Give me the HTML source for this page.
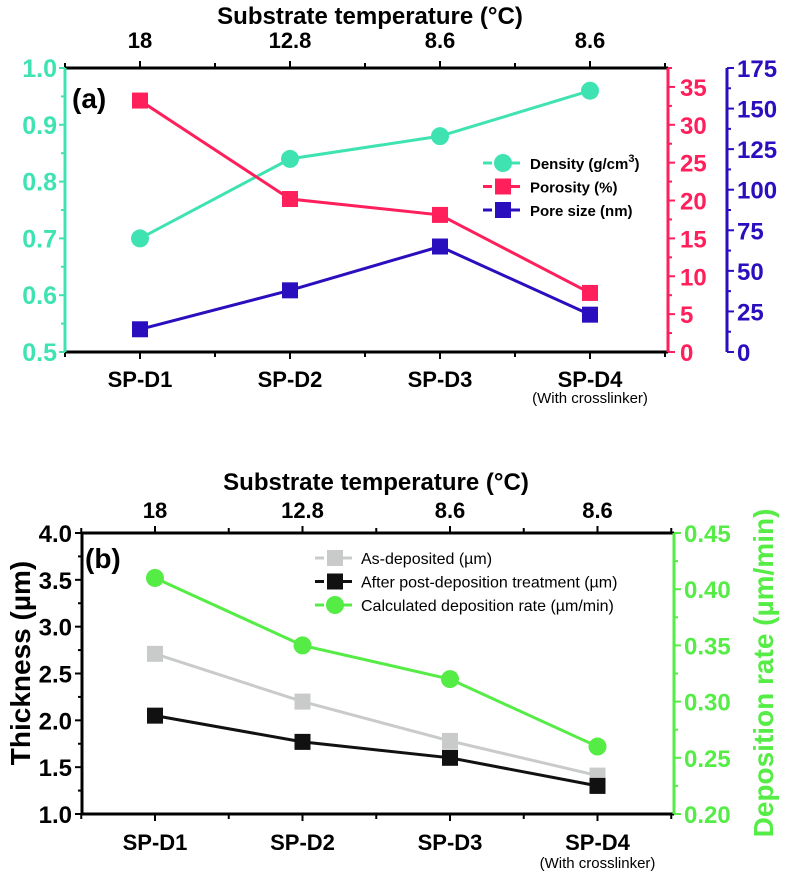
<!DOCTYPE html>
<html><head><meta charset="utf-8"><style>
html,body{margin:0;padding:0;background:#fff;}
svg{display:block;font-family:"Liberation Sans",Arial,sans-serif;}
</style></head><body>
<svg id="fig" width="787" height="872" viewBox="0 0 787 872"></svg>
<script>
const categories=["SP-D1","SP-D2","SP-D3","SP-D4"];
const topTemps=["18","12.8","8.6","8.6"];
const density=[0.70,0.84,0.88,0.96];
const porosity=[33.2,20.2,18.1,7.8];
const poreSize=[14,38,65,23];
const densityTicks=[0.5,0.6,0.7,0.8,0.9,1.0];
const porosityTicks=[0,5,10,15,20,25,30,35];
const poreTicks=[0,25,50,75,100,125,150,175];
const asDeposited=[2.71,2.20,1.78,1.41];
const afterTreatment=[2.05,1.77,1.60,1.30];
const depRate=[0.41,0.35,0.32,0.26];
const thickTicks=[1.0,1.5,2.0,2.5,3.0,3.5,4.0];
const rateTicks=[0.20,0.25,0.30,0.35,0.40,0.45];

const NS="http://www.w3.org/2000/svg";
const svg=document.getElementById('fig');
function el(tag,attrs,parent,text){const e=document.createElementNS(NS,tag);for(const k in attrs)e.setAttribute(k,attrs[k]);if(text!==undefined)e.textContent=text;(parent||svg).appendChild(e);return e;}
function lin(d0,d1,r0,r1){return v=>r0+(v-d0)*(r1-r0)/(d1-d0);}

const TEAL="#3fe3b2",RED="#ff1f5b",BLUE="#2a0fbf",GREEN="#55ec45",GREY="#c8cbc9";

// ---------- Panel A ----------
const A={l:65,r:668,t:68,b:352};
const ax=i=>140+150*i;
const yD=lin(0.5,1.0,A.b,A.t), yP=lin(0,37.5,A.b,A.t), yS=lin(0,175,A.b,A.t);
const gA=el('g',{});  
let t=el('text',{x:370,y:24,'font-size':24,'font-weight':'bold','text-anchor':'middle'},gA,'Substrate temperature (°C)');

topTemps.forEach((s,i)=>{const e=el('text',{x:ax(i),y:48,'font-size':22,'font-weight':'bold','text-anchor':'middle'},gA,s);
});
el('line',{x1:A.l,y1:A.t,x2:A.r,y2:A.t,stroke:'#000','stroke-width':3},gA);
el('line',{x1:A.l,y1:A.b,x2:A.r,y2:A.b,stroke:'#000','stroke-width':3},gA);
for(let i=-0.5;i<=3.5;i+=0.5){const x=ax(i);const big=Number.isInteger(i);
el('line',{x1:x,y1:A.b,x2:x,y2:A.b+(big?7:5),stroke:'#000','stroke-width':2},gA);
el('line',{x1:x,y1:A.t,x2:x,y2:A.t-(big?7:5),stroke:'#000','stroke-width':2},gA);}
categories.forEach((c,i)=>{const e=el('text',{x:ax(i),y:387,'font-size':22,'font-weight':'bold','text-anchor':'middle'},gA,c);
});
el('text',{x:ax(3),y:403,'font-size':15,'text-anchor':'middle'},gA,'(With crosslinker)');
// left teal axis
el('line',{x1:A.l,y1:A.t,x2:A.l,y2:A.b,stroke:TEAL,'stroke-width':3},gA);
densityTicks.forEach(v=>{el('line',{x1:A.l,y1:yD(v),x2:A.l-6,y2:yD(v),stroke:TEAL,'stroke-width':2},gA);
if(v<1.0)el('line',{x1:A.l,y1:yD(v+0.05),x2:A.l-4,y2:yD(v+0.05),stroke:TEAL,'stroke-width':2},gA);
el('text',{x:A.l-8,y:yD(v)+9,'font-size':25,'font-weight':'bold',fill:TEAL,'text-anchor':'end'},gA,v.toFixed(1));});
// red axis
el('line',{x1:A.r,y1:A.t,x2:A.r,y2:A.b,stroke:RED,'stroke-width':3},gA);
porosityTicks.forEach(v=>{el('line',{x1:A.r,y1:yP(v),x2:A.r+7,y2:yP(v),stroke:RED,'stroke-width':2},gA);
el('line',{x1:A.r,y1:yP(v+2.5),x2:A.r+4,y2:yP(v+2.5),stroke:RED,'stroke-width':2},gA);
el('text',{x:A.r+12,y:yP(v)+9,'font-size':24,'font-weight':'bold',fill:RED},gA,String(v));});
// blue axis
const BX=727;
el('line',{x1:BX,y1:A.t,x2:BX,y2:A.b,stroke:BLUE,'stroke-width':3},gA);
poreTicks.forEach(v=>{el('line',{x1:BX,y1:yS(v),x2:BX+7,y2:yS(v),stroke:BLUE,'stroke-width':2},gA);
if(v<175)el('line',{x1:BX,y1:yS(v+12.5),x2:BX+4,y2:yS(v+12.5),stroke:BLUE,'stroke-width':2},gA);
el('text',{x:BX+10,y:yS(v)+9,'font-size':24,'font-weight':'bold',fill:BLUE},gA,String(v));});
el('text',{x:72,y:108,'font-size':28,'font-weight':'bold'},gA,'(a)');
function series(g,vals,xf,yf,color,shape,name){
 const pl=el('polyline',{points:vals.map((v,i)=>xf(i)+','+yf(v)).join(' '),fill:'none',stroke:color,'stroke-width':3},g);
 
 vals.forEach((v,i)=>{let m;
  if(shape==='c')m=el('circle',{cx:xf(i),cy:yf(v),r:9,fill:color},g);
  else m=el('rect',{x:xf(i)-8,y:yf(v)-8,width:16,height:16,fill:color},g);
  });
}
series(gA,density,ax,yD,TEAL,'c','density');
series(gA,porosity,ax,yP,RED,'s','porosity');
series(gA,poreSize,ax,yS,BLUE,'s','pore-size');
// legend A
const legA=[["Density (g/cm",TEAL,'c'],["Porosity (%)",RED,'s'],["Pore size (nm)",BLUE,'s']];
const gLA=el('g',{},gA);
legA.forEach((L,i)=>{const y=163+23.5*i;
 el('line',{x1:483,y1:y,x2:525,y2:y,stroke:L[1],'stroke-width':3,'stroke-dasharray':'9 5'},gLA);
 if(L[2]==='c')el('circle',{cx:503,cy:y,r:9,fill:L[1]},gLA);else el('rect',{x:495,y:y-8,width:16,height:16,fill:L[1]},gLA);
 const tx=el('text',{x:530,y:y+6,'font-size':15,'font-weight':'bold'},gLA,L[0]);
 if(i===0){const s=el('tspan',{dy:-7,'font-size':11},tx,'3');el('tspan',{dy:7},tx,')');}
});

// ---------- Panel B ----------
const B={l:82,r:674,t:533,b:814};
const bx=i=>155+147.5*i;
const yT=lin(1.0,4.0,B.b,B.t), yR=lin(0.20,0.45,B.b,B.t);
const gB=el('g',{});
t=el('text',{x:376,y:490,'font-size':24,'font-weight':'bold','text-anchor':'middle'},gB,'Substrate temperature (°C)');

topTemps.forEach((s,i)=>{const e=el('text',{x:bx(i),y:518,'font-size':22,'font-weight':'bold','text-anchor':'middle'},gB,s);
});
el('line',{x1:B.l,y1:B.t,x2:B.r,y2:B.t,stroke:'#000','stroke-width':3},gB);
el('line',{x1:B.l,y1:B.b,x2:B.r,y2:B.b,stroke:'#000','stroke-width':3},gB);
el('line',{x1:B.l,y1:B.t,x2:B.l,y2:B.b,stroke:'#000','stroke-width':3},gB);
for(let i=-0.5;i<=3.5;i+=0.5){const x=bx(i);const big=Number.isInteger(i);
el('line',{x1:x,y1:B.b,x2:x,y2:B.b+(big?7:5),stroke:'#000','stroke-width':2},gB);
el('line',{x1:x,y1:B.t,x2:x,y2:B.t-(big?7:5),stroke:'#000','stroke-width':2},gB);}
categories.forEach((c,i)=>{const e=el('text',{x:bx(i),y:850,'font-size':22,'font-weight':'bold','text-anchor':'middle'},gB,c);
});
el('text',{x:bx(3),y:868,'font-size':15,'text-anchor':'middle'},gB,'(With crosslinker)');
thickTicks.forEach(v=>{el('line',{x1:B.l,y1:yT(v),x2:B.l-7,y2:yT(v),stroke:'#000','stroke-width':2},gB);
if(v<4)el('line',{x1:B.l,y1:yT(v+0.25),x2:B.l-4,y2:yT(v+0.25),stroke:'#000','stroke-width':2},gB);
el('text',{x:B.l-10,y:yT(v)+9,'font-size':24,'font-weight':'bold','text-anchor':'end'},gB,v.toFixed(1));});
t=el('text',{x:0,y:0,'font-size':28,'font-weight':'bold','text-anchor':'middle',transform:'translate(30,663) rotate(-90)'},gB,'Thickness (µm)');

el('line',{x1:B.r,y1:B.t,x2:B.r,y2:B.b,stroke:GREEN,'stroke-width':3},gB);
rateTicks.forEach(v=>{el('line',{x1:B.r,y1:yR(v),x2:B.r+7,y2:yR(v),stroke:GREEN,'stroke-width':2},gB);
if(v<0.45)el('line',{x1:B.r,y1:yR(v+0.025),x2:B.r+4,y2:yR(v+0.025),stroke:GREEN,'stroke-width':2},gB);
el('text',{x:B.r+10,y:yR(v)+9,'font-size':24,'font-weight':'bold',fill:GREEN},gB,v.toFixed(2));});
t=el('text',{x:0,y:0,'font-size':28,'font-weight':'bold','text-anchor':'middle',fill:GREEN,transform:'translate(773,673) rotate(-90)'},gB,'Deposition rate (µm/min)');

el('text',{x:85,y:568,'font-size':28,'font-weight':'bold'},gB,'(b)');
series(gB,asDeposited,bx,yT,GREY,'s','as-deposited');
series(gB,afterTreatment,bx,yT,'#111','s','after-treatment');
series(gB,depRate,bx,yR,GREEN,'c','deposition-rate');
const legB=[["As-deposited (µm)",GREY,'s'],["After post-deposition treatment (µm)",'#111','s'],["Calculated deposition rate (µm/min)",GREEN,'c']];
const gLB=el('g',{},gB);
legB.forEach((L,i)=>{const y=558+23.5*i;
 el('line',{x1:315,y1:y,x2:356,y2:y,stroke:L[1],'stroke-width':3,'stroke-dasharray':'9 5'},gLB);
 if(L[2]==='c')el('circle',{cx:335,cy:y,r:9,fill:L[1]},gLB);else el('rect',{x:327,y:y-8,width:16,height:16,fill:L[1]},gLB);
 el('text',{x:361,y:y+6,'font-size':16},gLB,L[0]);
});
</script>
</body></html>
